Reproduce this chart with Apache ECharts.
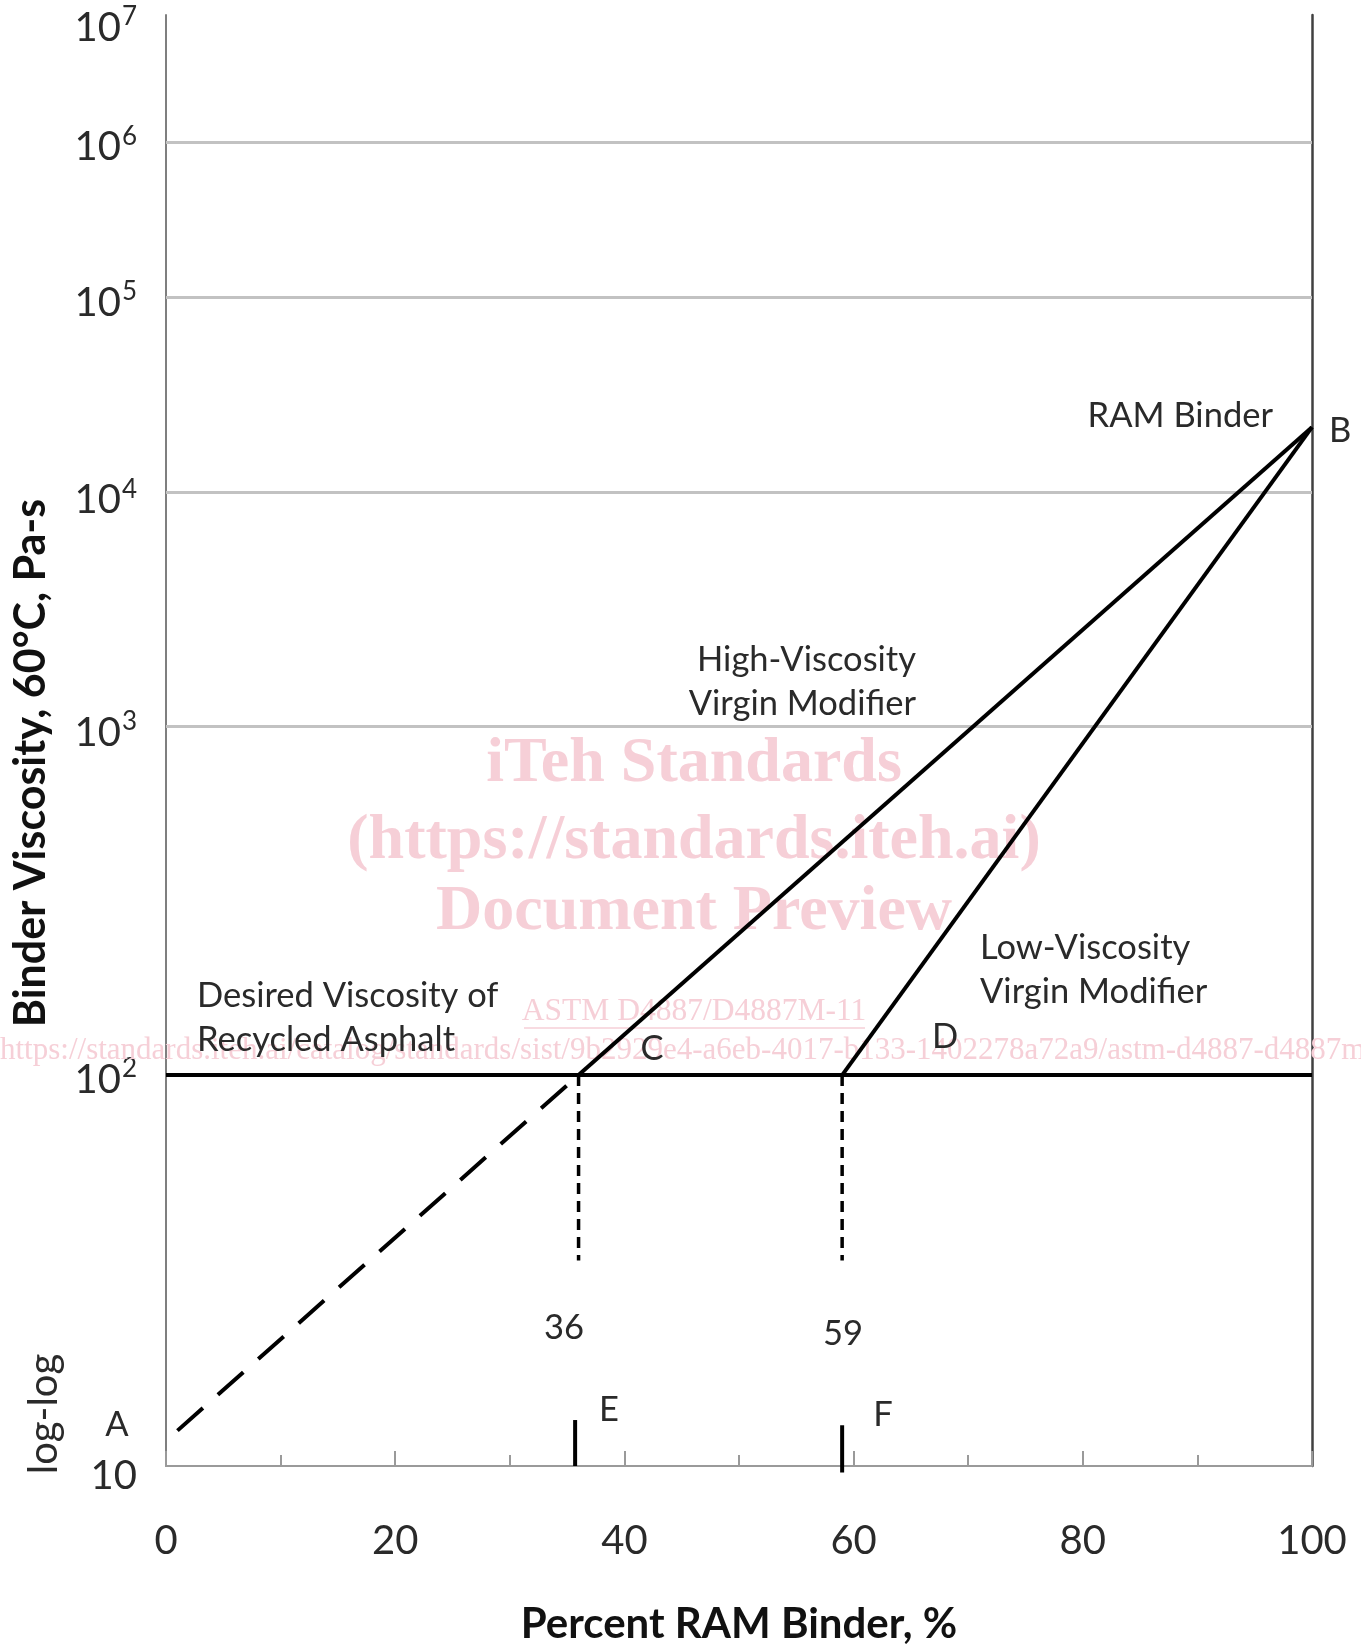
<!DOCTYPE html>
<html><head><meta charset="utf-8">
<script src="https://cdn.jsdelivr.net/npm/echarts@6/dist/echarts.min.js"></script>
<style>html,body{margin:0;padding:0;background:#fff}#c{width:1361px;height:1648px}</style>
</head><body><div id="c"></div>
<script>
// ---------------- data ----------------
const xTickValues = [0, 20, 40, 60, 80, 100];
const yTickExponents = [2, 3, 4, 5, 6, 7];            // gridlines at 10^n Pa-s
const yBottomLabel = '10';
const yBottomViscosity = 18.2;                         // viscosity at the lower edge of the plot (labelled "10")
const yTopViscosity = 1e7;

const desiredViscosity = [[0, 100], [100, 100]];
const highViscModifier = [[36, 100], [100, 20000]];     // C -> B
const lowViscModifier  = [[59, 100], [100, 20000]];     // D -> B
const extensionToA     = [[1, 20.6], [36, 100]];        // A -> C (dashed)
const dropAtC          = [[36, 100], [36, 40.4]];
const dropAtD          = [[59, 100], [59, 40.4]];
const markE            = [[35.7, 18.2], [35.7, 21.4]];
const markF            = [[59, 17.8], [59, 21.0]];

// ---------------- scale: log-log ----------------
const T = v => Math.log10(Math.log10(v));
const toT = arr => arr.map(([x, v]) => [x, T(v)]);
const yMin = T(yBottomViscosity), yMax = T(yTopViscosity);
const yTickT = yTickExponents.map(n => T(Math.pow(10, n)));

const TXT = '#2a2a2a';
const FONT = 'Lato';
const LBL = 40, SUP = 26;

// small vertical nudges of the y tick labels (px, downward) as in the original drawing
const labelShift = { bottom: 10, 2: 5, 3: 1, 4: 12, 5: 3, 6: 2, 7: 13 };
const richY = {};
Object.keys(labelShift).forEach(k => {
  const d = labelShift[k];
  richY['b' + k] = { fontFamily: FONT, fontSize: LBL, lineHeight: 48, color: TXT, padding: [2 * d, 0, 0, 0] };
  richY['s' + k] = { fontFamily: FONT, fontSize: SUP, lineHeight: 22, verticalAlign: 'top', color: TXT, padding: [d, 0, 0, 1] };
});

function lineSeries(data, width, type, z) {
  return {
    type: 'line', data: toT(data), symbol: 'none', silent: true, clip: false,
    lineStyle: { color: '#000', width: width, type: type, cap: 'butt' }, z: z || 10, animation: false
  };
}

const chart = echarts.init(document.getElementById('c'), null, { renderer: 'canvas' });

function txt(x, y, text, opt, extra) {
  return Object.assign({
    type: 'text', x: x, y: y, silent: true, z: 20,
    style: Object.assign({ text: text, fill: TXT, font: '34.5px ' + FONT, textAlign: 'left', textVerticalAlign: 'middle', lineHeight: 44 }, opt || {})
  }, extra || {});
}
const WM = '#f6cfd7';

chart.setOption({
  animation: false,
  backgroundColor: '#fff',
  grid: { left: 166, right: 49, top: 15, bottom: 182, containLabel: false, outerBoundsMode: 'none' },
  xAxis: {
    type: 'value', min: 0, max: 100, interval: 20,
    axisLine: { show: true, lineStyle: { color: '#9a9a9a', width: 2 } },
    axisTick: { show: true, inside: true, length: 15, lineStyle: { color: '#9a9a9a', width: 2 } },
    minorTick: { show: true, splitNumber: 2, length: 11, lineStyle: { color: '#9a9a9a', width: 2 } },
    splitLine: { show: false },
    axisLabel: { margin: 55, fontFamily: FONT, fontSize: LBL, lineHeight: 40, color: TXT },
    name: 'Percent RAM Binder, %', nameLocation: 'middle', nameGap: 137,
    nameTextStyle: { fontFamily: FONT, fontWeight: 'bold', fontSize: 42, color: '#111' }
  },
  yAxis: [{
    type: 'value', min: yMin, max: yMax,
    axisLine: { show: true, lineStyle: { color: '#7f7f7f', width: 2 } },
    axisTick: { show: false },
    splitLine: { show: false },
    axisLabel: {
      margin: 29,
      customValues: [yMin].concat(yTickT),
      formatter: function (val) {
        if (Math.abs(val - yMin) < 1e-9) return '{bbottom|' + yBottomLabel + '}';
        const n = Math.round(Math.pow(10, val));
        return '{b' + n + '|10}{s' + n + '|' + n + '}';
      },
      rich: richY
    }
  }, {
    type: 'value', min: yMin, max: yMax, position: 'right',
    axisLine: { show: true, lineStyle: { color: '#404040', width: 2.5 } },
    axisTick: { show: false }, axisLabel: { show: false }, splitLine: { show: false }
  }],
  graphic: [
    // watermark
    txt(694, 764, 'iTeh Standards', { fill: WM, font: 'bold 64px "Liberation Serif"', textAlign: 'center' }, { z: 1 }),
    txt(694, 841, '(https://standards.iteh.ai)', { fill: WM, font: 'bold 64px "Liberation Serif"', textAlign: 'center' }, { z: 1 }),
    txt(694, 912, 'Document Preview', { fill: WM, font: 'bold 64px "Liberation Serif"', textAlign: 'center' }, { z: 1 }),
    txt(694, 1012, 'ASTM D4887/D4887M-11', { fill: WM, font: '31.5px "Liberation Serif"', textAlign: 'center' }, { z: 1 }),
    { type: 'line', silent: true, z: 1, shape: { x1: 524, y1: 1028, x2: 865, y2: 1028 }, style: { stroke: WM, lineWidth: 1.5 } },
    txt(0, 1051, 'https://standards.iteh.ai/catalog/standards/sist/9b2929e4-a6eb-4017-b133-1402278a72a9/astm-d4887-d4887m-11', { fill: WM, font: '31px "Liberation Serif"' }, { z: 1 }),
    // axis title (vertical)
    txt(31, 763, 'Binder Viscosity, 60°C, Pa-s', { fill: '#111', font: 'bold 43px ' + FONT, textAlign: 'center' }, { rotation: Math.PI / 2 }),
    // annotations
    txt(1273, 416, 'RAM Binder', { textAlign: 'right' }),
    txt(1329, 431, 'B'),
    txt(916, 682, 'High-Viscosity\nVirgin Modifier', { textAlign: 'right' }),
    txt(980, 970, 'Low-Viscosity\nVirgin Modifier'),
    txt(197, 1018, 'Desired Viscosity of\nRecycled Asphalt'),
    txt(652, 1049, 'C', { textAlign: 'center' }),
    txt(932, 1037, 'D'),
    txt(564, 1328, '36', { textAlign: 'center' }),
    txt(843, 1334, '59', { textAlign: 'center' }),
    txt(609, 1410, 'E', { textAlign: 'center' }),
    txt(883, 1415, 'F', { textAlign: 'center' }),
    txt(117, 1425, 'A', { textAlign: 'center' }),
    txt(44, 1414, 'log-log', { font: '40px ' + FONT, textAlign: 'center' }, { rotation: Math.PI / 2 })
  ],
  series: [
    Object.assign(lineSeries(desiredViscosity, 4, 'solid'), {
      markLine: {
        silent: true, symbol: 'none', z: 1, animation: false,
        label: { show: false },
        lineStyle: { color: '#c2c2c2', width: 3, type: 'solid' },
        data: yTickT.filter((t, i) => yTickExponents[i] !== 2).map(t => ({ yAxis: t }))
      }
    }),
    lineSeries(highViscModifier, 4, 'solid'),
    lineSeries(lowViscModifier, 4, 'solid'),
    lineSeries(extensionToA, 4, [34, 20]),
    lineSeries(dropAtC, 3.5, [11, 7]),
    lineSeries(dropAtD, 3.5, [11, 7]),
    lineSeries(markE, 4, 'solid'),
    lineSeries(markF, 4, 'solid')
  ]
});
</script></body></html>
